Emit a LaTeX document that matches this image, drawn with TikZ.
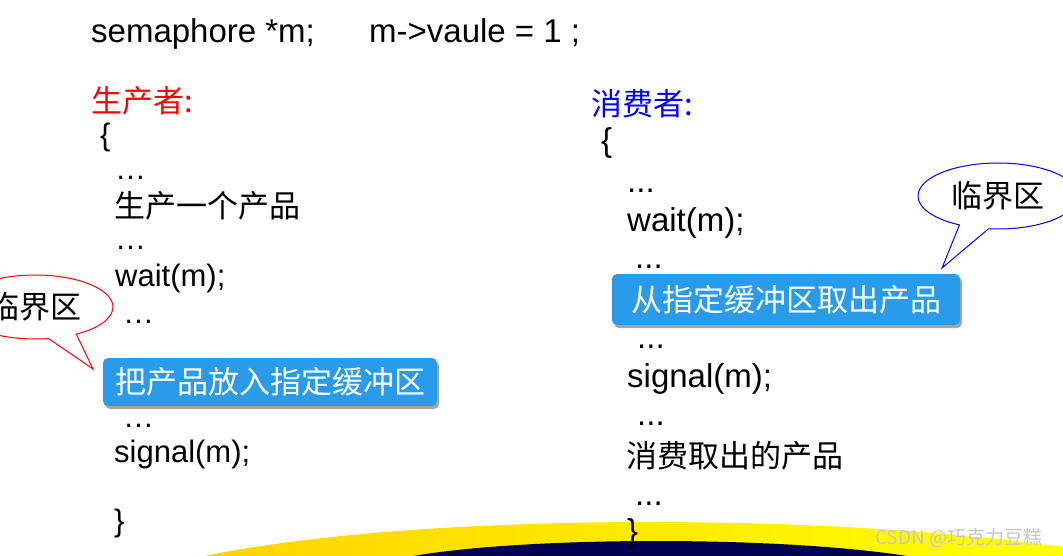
\documentclass[tikz,border=0pt]{standalone}
\usepackage{fontspec}
\setmainfont{Liberation Sans}
\newfontfamily\cjk{Noto Sans CJK SC}
\usetikzlibrary{shapes.callouts,shadows}
\definecolor{boxblue}{HTML}{2A9BEB}
\definecolor{bandnavy}{HTML}{000055}
\definecolor{bandgold}{HTML}{FFD400}
\definecolor{bandyellow}{HTML}{FFFF00}
\tikzset{
  codel/.style={anchor=base west, inner sep=0pt, font=\fontsize{31}{37}\selectfont},
  coder/.style={anchor=base west, inner sep=0pt, font=\fontsize{33}{39}\selectfont},
  zhl/.style={anchor=base west, inner sep=0pt, font=\cjk\fontsize{31}{37}\selectfont},
  hlbox/.style={fill=boxblue, text=white, rounded corners=5pt, inner sep=0pt,
    font=\cjk\fontsize{31}{37}\selectfont,
    drop shadow={shadow xshift=2pt, shadow yshift=-3pt, fill=black, opacity=0.35}},
  critcall/.style={ellipse callout, fill=white, line width=1pt, inner sep=0pt,
    callout pointer arc=22, font=\cjk\fontsize{31}{37}\selectfont},
}

\begin{document}
\begin{tikzpicture}[x=1pt, y=-1pt]
  \useasboundingbox[fill=white] (0,0) rectangle (1063,556);
  % bottom band
  \shade[left color=bandgold, right color=bandyellow]
    (205,556) .. controls (400,515) and (800,510) .. (1063,547) -- (1063,556) -- cycle;
  \fill[bandnavy] (413,556) .. controls (530,536) and (780,536) .. (907,556) -- cycle;
  \node[anchor=base west, inner sep=0pt, text=black!22,
    font=\cjk\fontsize{19}{22}\selectfont] (mark) at (875,544) {CSDN @巧克力豆糕};

  % declaration
  \node[coder] (decl) at (91,43) {semaphore *m;};
  \node[coder] (init) at (369,43) {m->vaule = 1 ;};

  % producer
  \node[zhl, text=red] (prodlab) at (91,113) {生产者:};
  \node[codel] (prodopen) at (100,146) {\{};
  \node[codel] (pd1) at (115,180) {…};
  \node[zhl] (pmake) at (114,218) {生产一个产品};
  \node[codel] (pd2) at (115,250) {…};
  \node[codel] (pwait) at (115,287) {wait(m);};
  \node[codel] (pd3) at (123,323) {…};
  \node[hlbox, minimum width=334pt, minimum height=48pt] (putbox) at (270,382)
    {把产品放入指定缓冲区};
  \node[codel] (pd4) at (123,427) {…};
  \node[codel] (psig) at (114,462) {signal(m);};
  \node[codel] (prodclose) at (114,531) {\}};

  % consumer
  \node[zhl, text=blue] (conslab) at (591,116) {消费者:};
  \node[coder] (consopen) at (601,152) {\{};
  \node[coder] (cd1) at (627,193) {...};
  \node[coder] (cwait) at (627,232) {wait(m);};
  \node[coder] (cd2) at (635,269) {...};
  \node[hlbox, minimum width=348pt, minimum height=51pt] (takebox) at (786,299.5)
    {从指定缓冲区取出产品};
  \node[coder] (cd3) at (637,348) {...};
  \node[coder] (csig) at (627,387) {signal(m);};
  \node[coder] (cd4) at (637,425) {...};
  \node[zhl] (cuse) at (626,467) {消费取出的产品};
  \node[coder] (cd5) at (635,505) {...};
  \node[coder] (consclose) at (627,542) {\}};

  % critical section callouts
  \coordinate (tipL) at (93,369);
  \coordinate (tipR) at (942,268);
  \node[critcall, draw=red, minimum width=156pt, minimum height=64pt,
    callout absolute pointer={(tipL)}] (critL) at (35,307) {临界区};
  \node[critcall, draw=blue, minimum width=160pt, minimum height=66pt,
    callout absolute pointer={(tipR)}] (critR) at (998,196) {临界区};
\end{tikzpicture}
\end{document}
